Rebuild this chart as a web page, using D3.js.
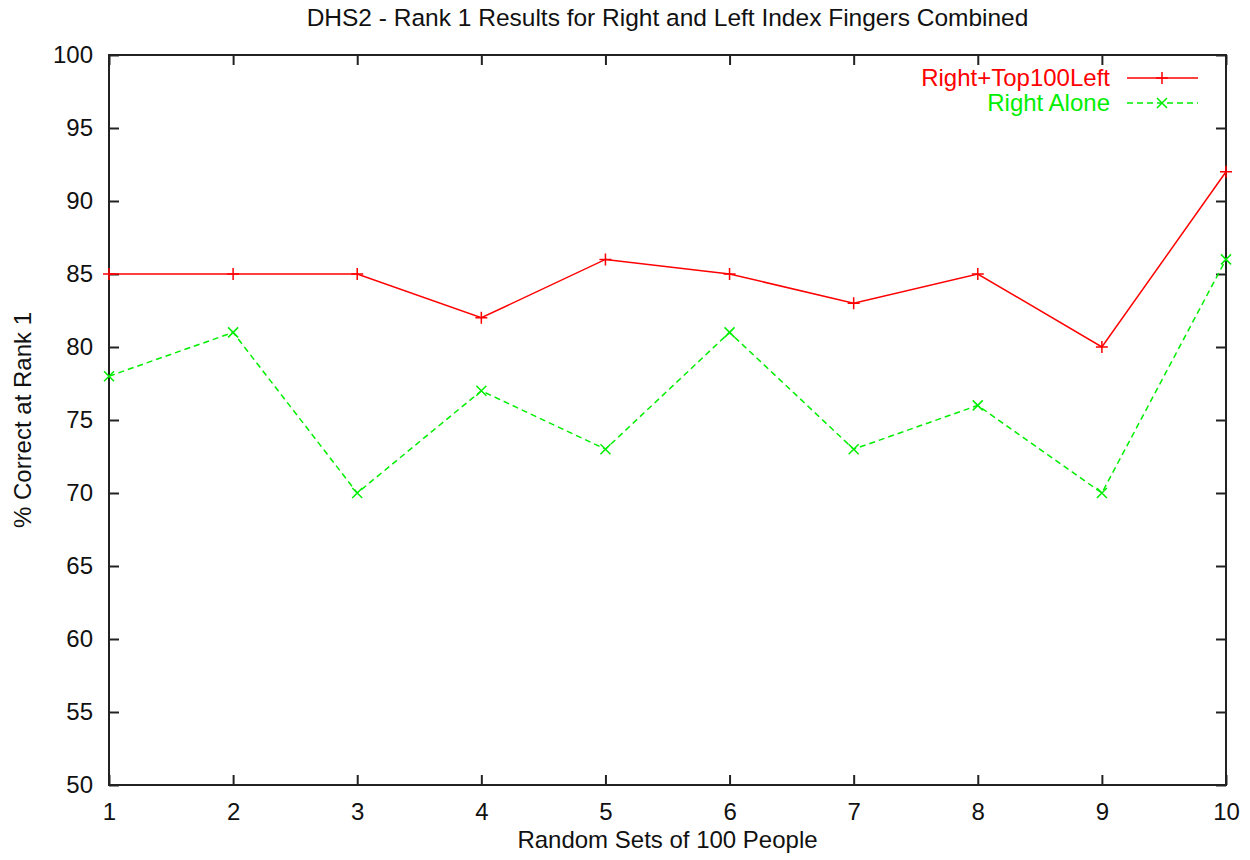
<!DOCTYPE html>
<html>
<head>
<meta charset="utf-8">
<script src="https://cdn.jsdelivr.net/npm/d3@7"></script>
<style>
  body { margin: 0; background: #fff; }
  text { font-family: "Liberation Sans", Arial, sans-serif; fill: #111; }
</style>
</head>
<body>
<script>
var outerWidth = 1250, outerHeight = 860;
var margin = { top: 55, right: 24, bottom: 75, left: 109 };   // clockwise as in CSS
var width = outerWidth - margin.left - margin.right,
  height = outerHeight - margin.top - margin.bottom;

// data
var sets = [1, 2, 3, 4, 5, 6, 7, 8, 9, 10];
var rightTop100Left = [85, 85, 85, 82, 86, 85, 83, 85, 80, 92];
var rightAlone = [78, 81, 70, 77, 73, 81, 73, 76, 70, 86];
var yTicks = [50, 55, 60, 65, 70, 75, 80, 85, 90, 95, 100];
var seriesNames = ["Right+Top100Left", "Right Alone"];

var x = d3.scaleLinear().domain([1, 10]).range([0, width]);
var y = d3.scaleLinear().domain([50, 100]).range([height, 0]);

var svg = d3.select("body").append("svg")
  .attr("width", outerWidth)
  .attr("height", outerHeight);

var g = svg.append("g")
  .attr("transform", "translate(" + margin.left + "," + margin.top + ")");

// axes, gnuplot style: ticks pointing inward on all four sides
var tickLen = 10;
function styleAxis(sel) {
  sel.selectAll("path.domain").remove();
  sel.selectAll("line").attr("stroke", "#222").attr("stroke-width", 2);
  sel.selectAll("text").style("font-size", "24px").attr("fill", "#111");
}
g.append("g")
  .attr("transform", "translate(0," + height + ")")
  .call(d3.axisBottom(x).tickValues(sets).tickFormat(d3.format("d")).tickSizeInner(-tickLen).tickPadding(18))
  .call(styleAxis);
g.append("g")
  .call(d3.axisTop(x).tickValues(sets).tickFormat("").tickSizeInner(-tickLen))
  .call(styleAxis);
g.append("g")
  .call(d3.axisLeft(y).tickValues(yTicks).tickFormat(d3.format("d")).tickSizeInner(-tickLen).tickPadding(16))
  .call(styleAxis);
g.append("g")
  .attr("transform", "translate(" + width + ",0)")
  .call(d3.axisRight(y).tickValues(yTicks).tickFormat("").tickSizeInner(-tickLen))
  .call(styleAxis);

// frame
g.append("rect")
  .attr("width", width).attr("height", height)
  .attr("fill", "none").attr("stroke", "#222").attr("stroke-width", 2);

var line = d3.line()
  .x(function (d, i) { return x(sets[i]); })
  .y(function (d) { return y(d); });

// Right+Top100Left
g.append("path")
  .datum(rightTop100Left)
  .attr("d", line)
  .attr("fill", "none").attr("stroke", "#ff0000").attr("stroke-width", 1.5);
g.selectAll(".plus")
  .data(rightTop100Left)
  .enter().append("path")
  .attr("class", "plus")
  .attr("transform", function (d, i) { return "translate(" + x(sets[i]) + "," + y(d) + ")"; })
  .attr("d", "M-6,0H6M0,-6V6")
  .attr("stroke", "#ff0000").attr("stroke-width", 1.5);

// Right Alone
g.append("path")
  .datum(rightAlone)
  .attr("d", line)
  .attr("fill", "none").attr("stroke", "#00ee00").attr("stroke-width", 1.5)
  .attr("stroke-dasharray", "6,4");
g.selectAll(".cross")
  .data(rightAlone)
  .enter().append("path")
  .attr("class", "cross")
  .attr("transform", function (d, i) { return "translate(" + x(sets[i]) + "," + y(d) + ")"; })
  .attr("d", "M-5,-5L5,5M-5,5L5,-5")
  .attr("stroke", "#00ee00").attr("stroke-width", 1.5);

// legend
var legend = g.append("g").attr("transform", "translate(" + (width - 116) + ",23)");
var legendColors = ["#ff0000", "#00ee00"];
seriesNames.forEach(function (name, i) {
  var row = legend.append("g").attr("transform", "translate(0," + (i * 25) + ")");
  row.append("text")
    .attr("x", 0).attr("dy", "0.35em")
    .attr("text-anchor", "end")
    .style("font-size", "24px")
    .style("fill", legendColors[i])
    .text(name);
  row.append("line")
    .attr("x1", 17).attr("x2", 88)
    .attr("stroke", legendColors[i]).attr("stroke-width", 1.5)
    .attr("stroke-dasharray", i === 1 ? "6,4" : null);
  row.append("path")
    .attr("transform", "translate(52,0)")
    .attr("d", i === 0 ? "M-6,0H6M0,-6V6" : "M-5,-5L5,5M-5,5L5,-5")
    .attr("stroke", legendColors[i]).attr("stroke-width", 1.5);
});

// titles
svg.append("text")
  .attr("x", margin.left + width / 2).attr("y", 26)
  .attr("text-anchor", "middle")
  .style("font-size", "24.5px")
  .text("DHS2 - Rank 1 Results for Right and Left Index Fingers Combined");
svg.append("text")
  .attr("x", margin.left + width / 2).attr("y", 848)
  .attr("text-anchor", "middle")
  .style("font-size", "24px")
  .text("Random Sets of 100 People");
svg.append("text")
  .attr("transform", "translate(31," + (margin.top + height / 2) + ") rotate(-90)")
  .attr("text-anchor", "middle")
  .style("font-size", "24px")
  .text("% Correct at Rank 1");
</script>
</body>
</html>
